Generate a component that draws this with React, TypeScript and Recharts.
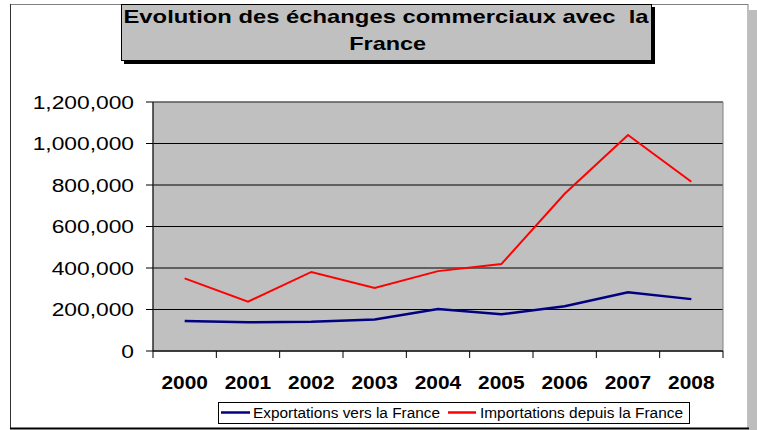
import React from 'react';
import { LineChart, Line, XAxis, YAxis, CartesianGrid, ReferenceArea } from 'recharts';

const years = ['2000', '2001', '2002', '2003', '2004', '2005', '2006', '2007', '2008'];
const exportations = [145000, 138000, 141000, 152000, 202000, 177000, 216000, 283000, 250000];
const importations = [350000, 238000, 381000, 304000, 385000, 419000, 758000, 1041000, 816000];
const yTicks = [0, 200000, 400000, 600000, 800000, 1000000, 1200000];
const seriesNames = ['Exportations vers la France', 'Importations depuis la France'];
const titleLines = ['Evolution des échanges commerciaux avec  la', 'France'];

const data = years.map((y, i) => ({ year: y, exp: exportations[i], imp: importations[i] }));

const FONT = '"Liberation Sans", Arial, sans-serif';
const fmt = (v: number) => v.toLocaleString('en-US');

const YTick = (props: any) => {
  const { x, y, payload } = props;
  return (
    <text
      x={0}
      y={0}
      transform={`translate(${x},${y + 6.5}) scale(1.2,1)`}
      textAnchor="end"
      fontFamily={FONT}
      fontSize={19}
      fill="#000"
    >
      {fmt(payload.value)}
    </text>
  );
};

const XTick = (props: any) => {
  const { x, y, payload, index, visibleTicksCount } = props;
  const off = payload && typeof payload.offset === 'number' && payload.offset > 0 ? payload.offset : 570 / 18;
  const axisY = y - 9;
  const isLast = index === (visibleTicksCount ?? years.length) - 1;
  return (
    <g>
      <line x1={x - off} x2={x - off} y1={axisY} y2={axisY + 7} stroke="#000" strokeWidth={1} />
      {isLast && <line x1={x + off} x2={x + off} y1={axisY} y2={axisY + 7} stroke="#000" strokeWidth={1} />}
      <text
        x={0}
        y={0}
        transform={`translate(${x},${axisY + 38}) scale(1.1,1)`}
        textAnchor="middle"
        fontFamily={FONT}
        fontWeight="bold"
        fontSize={19}
        fill="#000"
      >
        {payload.value}
      </text>
    </g>
  );
};

export default function App() {
  return (
    <div style={{ position: 'absolute', left: 0, top: 0, width: 757, height: 430, background: '#fff' }}>
      <svg width={757} height={430} style={{ position: 'absolute', left: 0, top: 0 }}>
        {/* outer frame */}
        <rect x={749} y={10} width={8} height={420} fill="#bdbdbd" />
        <line x1={10} x2={748} y1={4.5} y2={4.5} stroke="#808080" strokeWidth={1} />
        <line x1={10.5} x2={10.5} y1={4} y2={429} stroke="#333" strokeWidth={1} />
        <line x1={748} x2={748} y1={4} y2={429} stroke="#808080" strokeWidth={1} />
        <line x1={10} x2={749} y1={428.5} y2={428.5} stroke="#000" strokeWidth={2} />
        {/* title box */}
        <rect x={124} y={7} width={531} height={57} fill="#000" />
        <rect x={121.5} y={4.5} width={530} height={56} fill="#c0c0c0" stroke="#000" strokeWidth={1} />
        <text
          x={386}
          y={23}
          textAnchor="middle"
          fontFamily={FONT}
          fontWeight="bold"
          fontSize={19}
          textLength={525}
          lengthAdjust="spacingAndGlyphs"
          fill="#000"
          style={{ whiteSpace: 'pre' }}
          xmlSpace="preserve"
        >
          {titleLines[0]}
        </text>
        <text
          x={387.7}
          y={50}
          textAnchor="middle"
          fontFamily={FONT}
          fontWeight="bold"
          fontSize={19}
          textLength={77}
          lengthAdjust="spacingAndGlyphs"
          fill="#000"
        >
          {titleLines[1]}
        </text>
        {/* legend */}
        <rect x={218.5} y={402.5} width={471} height={21} fill="#fff" stroke="#000" strokeWidth={1} />
        <line x1={221} x2={250} y1={412.5} y2={412.5} stroke="#000080" strokeWidth={2.5} />
        <text x={253} y={418} fontFamily={FONT} fontSize={14} textLength={187} lengthAdjust="spacingAndGlyphs" fill="#000">
          {seriesNames[0]}
        </text>
        <line x1={448} x2={476} y1={412.5} y2={412.5} stroke="#ff0000" strokeWidth={2.5} />
        <text x={480} y={418} fontFamily={FONT} fontSize={14} textLength={203} lengthAdjust="spacingAndGlyphs" fill="#000">
          {seriesNames[1]}
        </text>
      </svg>
      <div style={{ position: 'absolute', left: 0, top: 0 }}>
        <LineChart width={757} height={430} data={data} margin={{ top: 102, right: 34, bottom: 0, left: 0 }}>
          <CartesianGrid vertical={false} stroke="#000" fill="#c0c0c0" fillOpacity={1} />
          <ReferenceArea y1={0} y2={1200000} fill="none" stroke="#808080" strokeWidth={1} ifOverflow="visible" />
          <XAxis
            dataKey="year"
            scale="band"
            height={79}
            tickLine={false}
            tickSize={7}
            tickMargin={2}
            axisLine={{ stroke: '#000', strokeWidth: 1 }}
            tick={<XTick />}
            interval={0}
          />
          <YAxis
            width={153}
            domain={[0, 1200000]}
            ticks={yTicks}
            tickSize={7}
            tickMargin={12}
            tickLine={{ stroke: '#000' }}
            axisLine={{ stroke: '#000', strokeWidth: 1 }}
            tick={<YTick />}
            interval={0}
          />
          <Line type="linear" dataKey="exp" stroke="#000080" strokeWidth={2.5} dot={false} isAnimationActive={false} />
          <Line type="linear" dataKey="imp" stroke="#ff0000" strokeWidth={2} dot={false} isAnimationActive={false} />
        </LineChart>
      </div>
    </div>
  );
}
